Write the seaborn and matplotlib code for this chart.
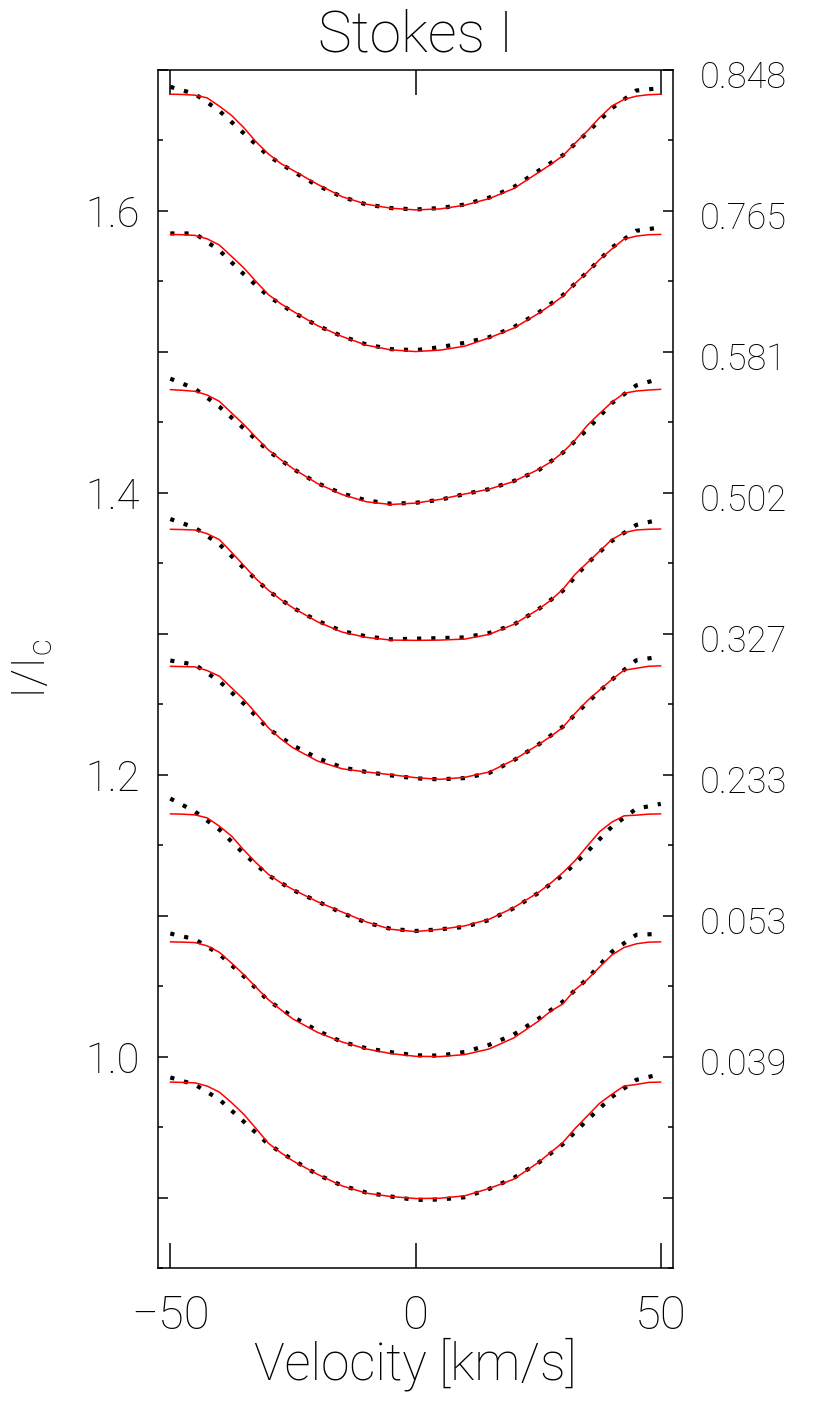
import matplotlib
matplotlib.use("Agg")
import matplotlib.pyplot as plt
from matplotlib.ticker import MultipleLocator, FuncFormatter
import seaborn as sns
import pandas as pd

# velocity grids [km/s]
velocity = [-50, -45, -40, -35, -30, -25, -20, -15, -10, -5, 0,
            5, 10, 15, 20, 25, 30, 35, 40, 45, 50]
velocity_fit = [-50, -47.5, -45, -42.5, -40, -37.5, -35, -32.5, -30, -27.5, -25,
                -20, -15, -10, -5, 0, 5, 10, 15, 20,
                25, 27.5, 30, 32.5, 35, 37.5, 40, 42.5, 45, 47.5, 50]

# rotational phases, bottom to top
phases = ["0.039", "0.053", "0.233", "0.327", "0.502", "0.581", "0.765", "0.848"]

# observed Stokes I (shifted by 0.1 per phase)
obs_039 = [0.9852, 0.9802, 0.9696, 0.9538, 0.9378, 0.9267, 0.9163, 0.9085, 0.9035, 0.9007, 0.8983,
           0.8986, 0.9002, 0.9061, 0.9139, 0.9245, 0.9378, 0.9550, 0.9713, 0.9835, 0.9876]
obs_053 = [1.0873, 1.0833, 1.0727, 1.0569, 1.0396, 1.0283, 1.0184, 1.0104, 1.0059, 1.0031, 1.0009,
           1.0007, 1.0033, 1.0083, 1.0156, 1.0267, 1.0389, 1.0552, 1.0743, 1.0864, 1.0871]
obs_233 = [1.1831, 1.1739, 1.1611, 1.1439, 1.1286, 1.1182, 1.1101, 1.1019, 1.0950, 1.0906, 1.0891,
           1.0903, 1.0920, 1.0969, 1.1052, 1.1160, 1.1286, 1.1453, 1.1630, 1.1758, 1.1793]
obs_327 = [1.2810, 1.2781, 1.2663, 1.2503, 1.2326, 1.2208, 1.2118, 1.2052, 1.2019, 1.1995, 1.1974,
           1.1967, 1.1976, 1.2012, 1.2101, 1.2212, 1.2340, 1.2510, 1.2673, 1.2812, 1.2838]
obs_502 = [1.3814, 1.3753, 1.3635, 1.3465, 1.3304, 1.3184, 1.3092, 1.3019, 1.2981, 1.2960, 1.2965,
           1.2969, 1.2974, 1.3005, 1.3064, 1.3172, 1.3304, 1.3498, 1.3658, 1.3772, 1.3812]
obs_581 = [1.4810, 1.4739, 1.4611, 1.4456, 1.4297, 1.4170, 1.4068, 1.3995, 1.3946, 1.3922, 1.3929,
           1.3950, 1.3991, 1.4026, 1.4083, 1.4158, 1.4283, 1.4448, 1.4635, 1.4762, 1.4812]
obs_765 = [1.5840, 1.5840, 1.5720, 1.5550, 1.5394, 1.5281, 1.5186, 1.5111, 1.5052, 1.5019, 1.5012,
           1.5033, 1.5064, 1.5104, 1.5175, 1.5276, 1.5401, 1.5566, 1.5739, 1.5859, 1.5883]
obs_848 = [1.6880, 1.6830, 1.6710, 1.6550, 1.6390, 1.6280, 1.6180, 1.6100, 1.6045, 1.6020, 1.6010,
           1.6020, 1.6045, 1.6094, 1.6168, 1.6283, 1.6394, 1.6555, 1.6727, 1.6854, 1.6871]

# model fit
mod_039 = [0.9819, 0.9817, 0.9814, 0.9791, 0.9748, 0.9673, 0.9590, 0.9489, 0.9385, 0.9319, 0.9260,
           0.9165, 0.9083, 0.9031, 0.9007, 0.8993, 0.8995, 0.9012, 0.9064, 0.9130,
           0.9248, 0.9319, 0.9389, 0.9489, 0.9578, 0.9668, 0.9732, 0.9791, 0.9802, 0.9817, 0.9819]
mod_053 = [1.0814, 1.0812, 1.0809, 1.0786, 1.0740, 1.0663, 1.0581, 1.0491, 1.0404, 1.0333, 1.0267,
           1.0172, 1.0104, 1.0054, 1.0021, 1.0002, 1.0000, 1.0014, 1.0054, 1.0132,
           1.0250, 1.0321, 1.0373, 1.0474, 1.0545, 1.0635, 1.0720, 1.0774, 1.0800, 1.0812, 1.0814]
mod_233 = [1.1722, 1.1720, 1.1715, 1.1694, 1.1635, 1.1564, 1.1465, 1.1375, 1.1293, 1.1234, 1.1186,
           1.1099, 1.1026, 1.0955, 1.0903, 1.0887, 1.0903, 1.0927, 1.0974, 1.1057,
           1.1163, 1.1229, 1.1304, 1.1389, 1.1493, 1.1595, 1.1663, 1.1708, 1.1713, 1.1720, 1.1722]
mod_327 = [1.2769, 1.2767, 1.2765, 1.2739, 1.2699, 1.2616, 1.2533, 1.2434, 1.2333, 1.2255, 1.2191,
           1.2097, 1.2042, 1.2019, 1.2000, 1.1979, 1.1967, 1.1981, 1.2019, 1.2104,
           1.2212, 1.2270, 1.2335, 1.2434, 1.2524, 1.2600, 1.2675, 1.2741, 1.2755, 1.2769, 1.2772]
mod_502 = [1.3741, 1.3739, 1.3736, 1.3710, 1.3668, 1.3578, 1.3484, 1.3389, 1.3309, 1.3243, 1.3184,
           1.3085, 1.3012, 1.2974, 1.2955, 1.2953, 1.2955, 1.2962, 1.2995, 1.3066,
           1.3172, 1.3236, 1.3314, 1.3420, 1.3503, 1.3585, 1.3668, 1.3717, 1.3736, 1.3741, 1.3743]
mod_581 = [1.4732, 1.4727, 1.4720, 1.4694, 1.4649, 1.4566, 1.4484, 1.4392, 1.4304, 1.4236, 1.4172,
           1.4066, 1.3988, 1.3936, 1.3917, 1.3927, 1.3953, 1.3991, 1.4026, 1.4080,
           1.4165, 1.4217, 1.4286, 1.4373, 1.4477, 1.4562, 1.4642, 1.4706, 1.4722, 1.4729, 1.4734]
mod_765 = [1.5833, 1.5831, 1.5826, 1.5802, 1.5758, 1.5677, 1.5595, 1.5498, 1.5406, 1.5342, 1.5288,
           1.5186, 1.5109, 1.5047, 1.5014, 1.5002, 1.5012, 1.5040, 1.5099, 1.5168,
           1.5271, 1.5330, 1.5394, 1.5484, 1.5564, 1.5654, 1.5729, 1.5800, 1.5821, 1.5831, 1.5833]
mod_848 = [1.6828, 1.6826, 1.6821, 1.6802, 1.6743, 1.6677, 1.6590, 1.6489, 1.6404, 1.6337, 1.6288,
           1.6189, 1.6101, 1.6047, 1.6019, 1.6007, 1.6014, 1.6040, 1.6087, 1.6158,
           1.6271, 1.6328, 1.6390, 1.6479, 1.6566, 1.6661, 1.6743, 1.6791, 1.6814, 1.6824, 1.6828]

observed = [obs_039, obs_053, obs_233, obs_327, obs_502, obs_581, obs_765, obs_848]
model = [mod_039, mod_053, mod_233, mod_327, mod_502, mod_581, mod_765, mod_848]

sns.set_style("ticks")
plt.rcParams["font.family"] = ["Roboto", "DejaVu Sans"]
plt.rcParams["font.weight"] = "light"
plt.rcParams["mathtext.fontset"] = "custom"
plt.rcParams["mathtext.rm"] = "Roboto:light"
plt.rcParams.update({"text.color": "black", "axes.labelcolor": "black",
                     "xtick.color": "black", "ytick.color": "black"})

fig = plt.figure(figsize=(8.3, 14.1), dpi=100)
ax = fig.add_axes([0.1904, 0.1007, 0.6205, 0.8497])

for i, phase in enumerate(phases):
    df_obs = pd.DataFrame({"v": velocity, "I": observed[i]})
    df_mod = pd.DataFrame({"v": velocity_fit, "I": model[i]})
    sns.lineplot(data=df_obs, x="v", y="I", color="black", lw=3.0,
                 linestyle=(0, (1, 2.4)), dash_capstyle="butt", ax=ax)
    sns.lineplot(data=df_mod, x="v", y="I", color="red", lw=1.1, ax=ax)
    ax.text(1.052, 0.994 + 0.1 * i, phase, transform=ax.get_yaxis_transform(),
            ha="left", va="center", fontsize=26, fontweight="light")

ax.set_xlim(-52.5, 52.5)
ax.set_ylim(0.85, 1.70)
ax.set_xticks([-50, 0, 50])
ax.set_xticklabels(["\u221250", "0", "50"])
ax.yaxis.set_major_locator(MultipleLocator(0.1))
ax.yaxis.set_minor_locator(MultipleLocator(0.05))
ax.yaxis.set_major_formatter(FuncFormatter(
    lambda v, _: f"{v:.1f}" if round(v * 10) % 2 == 0 else ""))

ax.tick_params(axis="x", which="major", direction="in", length=18, width=1.1,
               top=True, bottom=True, labelsize=34, pad=19)
ax.tick_params(axis="y", which="major", direction="in", length=7, width=1.1,
               left=True, right=True, labelsize=30, pad=13)
ax.tick_params(axis="y", which="minor", direction="in", length=3.5, width=1.1,
               left=True, right=True)
for sp in ax.spines.values():
    sp.set_linewidth(1.1)
    sp.set_color("black")

ax.set_xlabel("Velocity [km/s]", fontsize=37, fontweight="light")
ax.xaxis.set_label_coords(0.5, -0.058)
ax.set_ylabel(r"I/I$_\mathrm{c}$", fontsize=34, fontweight="light")
ax.yaxis.set_label_coords(-0.2, 0.5)
ax.set_title("Stokes I", fontsize=41, fontweight="light", pad=13)

fig.savefig("out.png", dpi=100)
